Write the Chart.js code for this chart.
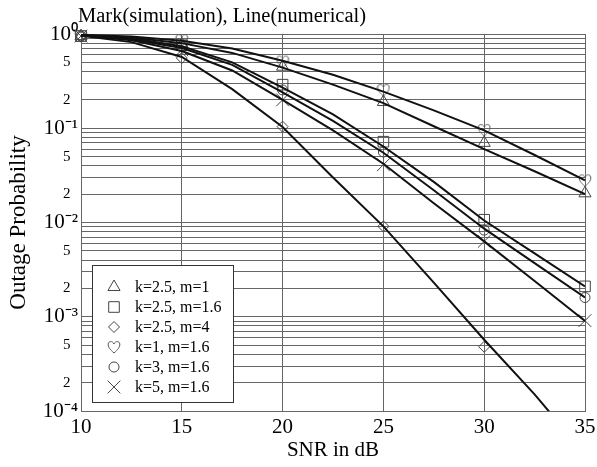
<!DOCTYPE html>
<html>
<head>
<meta charset="utf-8">
<script src="https://cdn.jsdelivr.net/npm/chart.js@4/dist/chart.umd.min.js"></script>
<style>
html, body { margin:0; padding:0; background:#fff; }
</style>
</head>
<body>
<canvas id="myChart" width="597" height="467"></canvas>
<script>
// x values: numerical curves and simulation marks
var snr_line = [10, 12.5, 15, 17.5, 20, 22.5, 25, 27.5, 30, 32.5, 35];
var snr_mark = [10, 15, 20, 25, 30, 35];

var series_labels = ['k=2.5, m=1', 'k=2.5, m=1.6', 'k=2.5, m=4', 'k=1, m=1.6', 'k=3, m=1.6', 'k=5, m=1.6'];

// numerical (lines)
var line_k25_m1  = [0.97, 0.92, 0.80, 0.63, 0.44, 0.29, 0.185, 0.105, 0.060, 0.035, 0.020];
var line_k25_m16 = [0.97, 0.90, 0.74, 0.50, 0.27, 0.14, 0.064, 0.027, 0.0105, 0.0047, 0.0021];
var line_k25_m4  = [0.96, 0.82, 0.57, 0.26, 0.103, 0.030, 0.0091, 0.0023, 0.00057, 0.00015, 0.000035];
var line_k1_m16  = [0.98, 0.94, 0.85, 0.70, 0.52, 0.37, 0.245, 0.155, 0.095, 0.052, 0.028];
var line_k3_m16  = [0.97, 0.88, 0.71, 0.47, 0.24, 0.12, 0.055, 0.022, 0.0086, 0.0037, 0.0016];
var line_k5_m16  = [0.97, 0.86, 0.66, 0.41, 0.20, 0.095, 0.042, 0.016, 0.0063, 0.0024, 0.0009];

// simulation (marks)
var mark_k25_m1  = [0.95, 0.78, 0.45, 0.19, 0.070, 0.0204];
var mark_k25_m16 = [0.95, 0.76, 0.29, 0.072, 0.0107, 0.0021];
var mark_k25_m4  = [0.95, 0.556, 0.104, 0.0091, 0.00048, null];
var mark_k1_m16  = [0.95, 0.86, 0.51, 0.255, 0.096, 0.028];
var mark_k3_m16  = [0.95, 0.73, 0.255, 0.056, 0.0083, 0.0016];
var mark_k5_m16  = [0.95, 0.68, 0.20, 0.041, 0.0063, 0.00091];

// y ticks: every 1..9 x 10^n, labels only on 1, 2, 5
var y_decades = [-4, -3, -2, -1, 0];
var y_steps   = [1, 2, 3, 4, 5, 6, 7, 8, 9];
var y_labelled = [1, 2, 5];
var x_ticks = [10, 15, 20, 25, 30, 35];

var sup = {'0':'\u2070','1':'\u00b9','2':'\u00b2','3':'\u00b3','4':'\u2074','-':'\u207b'};
function to_sup(n){
  return String(n).split('').map(function(c){ return sup[c]; }).join('');
}
function decomp(v){
  var e = Math.floor(Math.log10(v) + 1e-9);
  var m = Math.round(v / Math.pow(10, e));
  return {e: e, m: m};
}

// heart marker drawn on a small canvas
function make_heart(){
  var c = document.createElement('canvas');
  c.width = 14; c.height = 14;
  var g = c.getContext('2d');
  g.strokeStyle = '#555';
  g.lineWidth = 1;
  g.beginPath();
  g.moveTo(7, 13);
  g.bezierCurveTo(3, 9.5, 1, 7, 1.2, 4);
  g.bezierCurveTo(1.5, 1, 5.5, 0.5, 7, 4);
  g.bezierCurveTo(8.5, 0.5, 12.5, 1, 12.8, 4);
  g.bezierCurveTo(13, 7, 11, 9.5, 7, 13);
  g.stroke();
  return c;
}
var heart = make_heart();

var mark_styles = [
  {pointStyle: 'triangle', radius: 7},
  {pointStyle: 'rect',     radius: 7.5},
  {pointStyle: 'rectRot',  radius: 5.5},
  {pointStyle: heart,      radius: 7},
  {pointStyle: 'circle',   radius: 5},
  {pointStyle: 'crossRot', radius: 9}
];

var line_sets = [line_k25_m1, line_k25_m16, line_k25_m4, line_k1_m16, line_k3_m16, line_k5_m16];
var mark_sets = [mark_k25_m1, mark_k25_m16, mark_k25_m4, mark_k1_m16, mark_k3_m16, mark_k5_m16];

function xy(xs, ys){
  return xs.map(function(x, i){ return {x: x, y: ys[i]}; });
}

var datasets = [];
line_sets.forEach(function(ys, i){
  datasets.push({
    label: series_labels[i] + ' (numerical)',
    data: xy(snr_line, ys),
    borderColor: '#111',
    borderWidth: 2,
    pointRadius: 0,
    showLine: true,
    fill: false,
    tension: 0
  });
});
mark_sets.forEach(function(ys, i){
  datasets.push({
    label: series_labels[i],
    data: xy(snr_mark, ys),
    showLine: false,
    clip: false,
    pointStyle: mark_styles[i].pointStyle,
    pointRadius: mark_styles[i].radius,
    pointBorderColor: '#444',
    pointBackgroundColor: 'rgba(0,0,0,0)',
    pointBorderWidth: 1
  });
});

var serif = 'Liberation Serif, Times New Roman, serif';

// title above the plot, left aligned to plot area
var title_plugin = {
  id: 'topTitle',
  afterDraw: function(chart){
    var ctx = chart.ctx;
    ctx.save();
    ctx.fillStyle = '#000';
    ctx.font = '20.5px ' + serif;
    ctx.textBaseline = 'alphabetic';
    ctx.textAlign = 'left';
    ctx.fillText('Mark(simulation), Line(numerical)', chart.chartArea.left - 3, 22);
    ctx.restore();
  }
};

// boxed legend in lower-left of plot area
var legend_plugin = {
  id: 'boxLegend',
  afterDatasetsDraw: function(chart){
    var ctx = chart.ctx;
    var a = chart.chartArea;
    var bx = a.left + 11, by = a.bottom - 146, bw = 141, bh = 137;
    ctx.save();
    ctx.fillStyle = '#fff';
    ctx.fillRect(bx, by, bw, bh);
    ctx.strokeStyle = '#333';
    ctx.lineWidth = 1;
    ctx.strokeRect(bx + 0.5, by + 0.5, bw, bh);
    ctx.font = '16px ' + serif;
    ctx.textBaseline = 'middle';
    ctx.textAlign = 'left';
    series_labels.forEach(function(lab, i){
      var y = by + 22 + i * 20;
      var s = mark_styles[i];
      ctx.strokeStyle = '#444';
      ctx.fillStyle = 'rgba(0,0,0,0)';
      ctx.lineWidth = 1;
      Chart.helpers.drawPoint(ctx, {pointStyle: s.pointStyle, radius: s.radius, rotation: 0, borderWidth: 1}, bx + 22, y);
      ctx.fillStyle = '#000';
      ctx.fillText(lab, bx + 43, y + 1);
    });
    ctx.restore();
  }
};

var y_tick_values = [];
y_decades.forEach(function(e){
  y_steps.forEach(function(m){
    var v = m * Math.pow(10, e);
    if (v <= 1.0000001) y_tick_values.push(v);
  });
});

var ctx = document.getElementById('myChart');
window.chart = new Chart(ctx, {
  type: 'scatter',
  data: { datasets: datasets },
  plugins: [title_plugin, legend_plugin],
  options: {
    responsive: false,
    animation: false,
    layout: { padding: { left: 0, right: 12, top: 34, bottom: 0 } },
    plugins: {
      legend: { display: false },
      tooltip: { enabled: false }
    },
    scales: {
      x: {
        type: 'linear',
        min: 10, max: 35,
        afterBuildTicks: function(axis){
          axis.ticks = x_ticks.map(function(v){ return {value: v}; });
        },
        afterFit: function(axis){
          axis.height = 56;
          axis.paddingRight = 0;
          axis.paddingLeft = 0;
        },
        ticks: {
          color: '#000',
          padding: 4,
          font: { family: serif, size: 21 },
          maxRotation: 0
        },
        grid: { color: '#666', lineWidth: 1, drawTicks: false },
        border: { color: '#666', width: 1 },
        title: {
          display: true,
          text: 'SNR in dB',
          color: '#000',
          font: { family: serif, size: 21 },
          padding: { top: 4, bottom: 4 }
        }
      },
      y: {
        type: 'logarithmic',
        min: 0.0001, max: 1,
        afterBuildTicks: function(axis){
          axis.ticks = y_tick_values.map(function(v){ return {value: v}; });
        },
        afterFit: function(axis){ axis.width = 81; },
        ticks: {
          color: '#000',
          padding: 3,
          autoSkip: false,
          font: function(c){
            var v = c.tick ? c.tick.value : 1;
            var d = decomp(v);
            return { family: serif, size: d.m === 1 ? 21 : 15 };
          },
          callback: function(v){
            var d = decomp(v);
            if (d.m === 1) return '10' + to_sup(d.e);
            if (y_labelled.indexOf(d.m) >= 0) return String(d.m) + '\u2002';
            return '';
          }
        },
        grid: { color: '#666', lineWidth: 1, drawTicks: false },
        border: { color: '#666', width: 1 },
        title: {
          display: true,
          text: 'Outage Probability',
          color: '#000',
          font: { family: serif, size: 23 },
          padding: { top: 5, bottom: 5 }
        }
      }
    }
  }
});
</script>
</body>
</html>
